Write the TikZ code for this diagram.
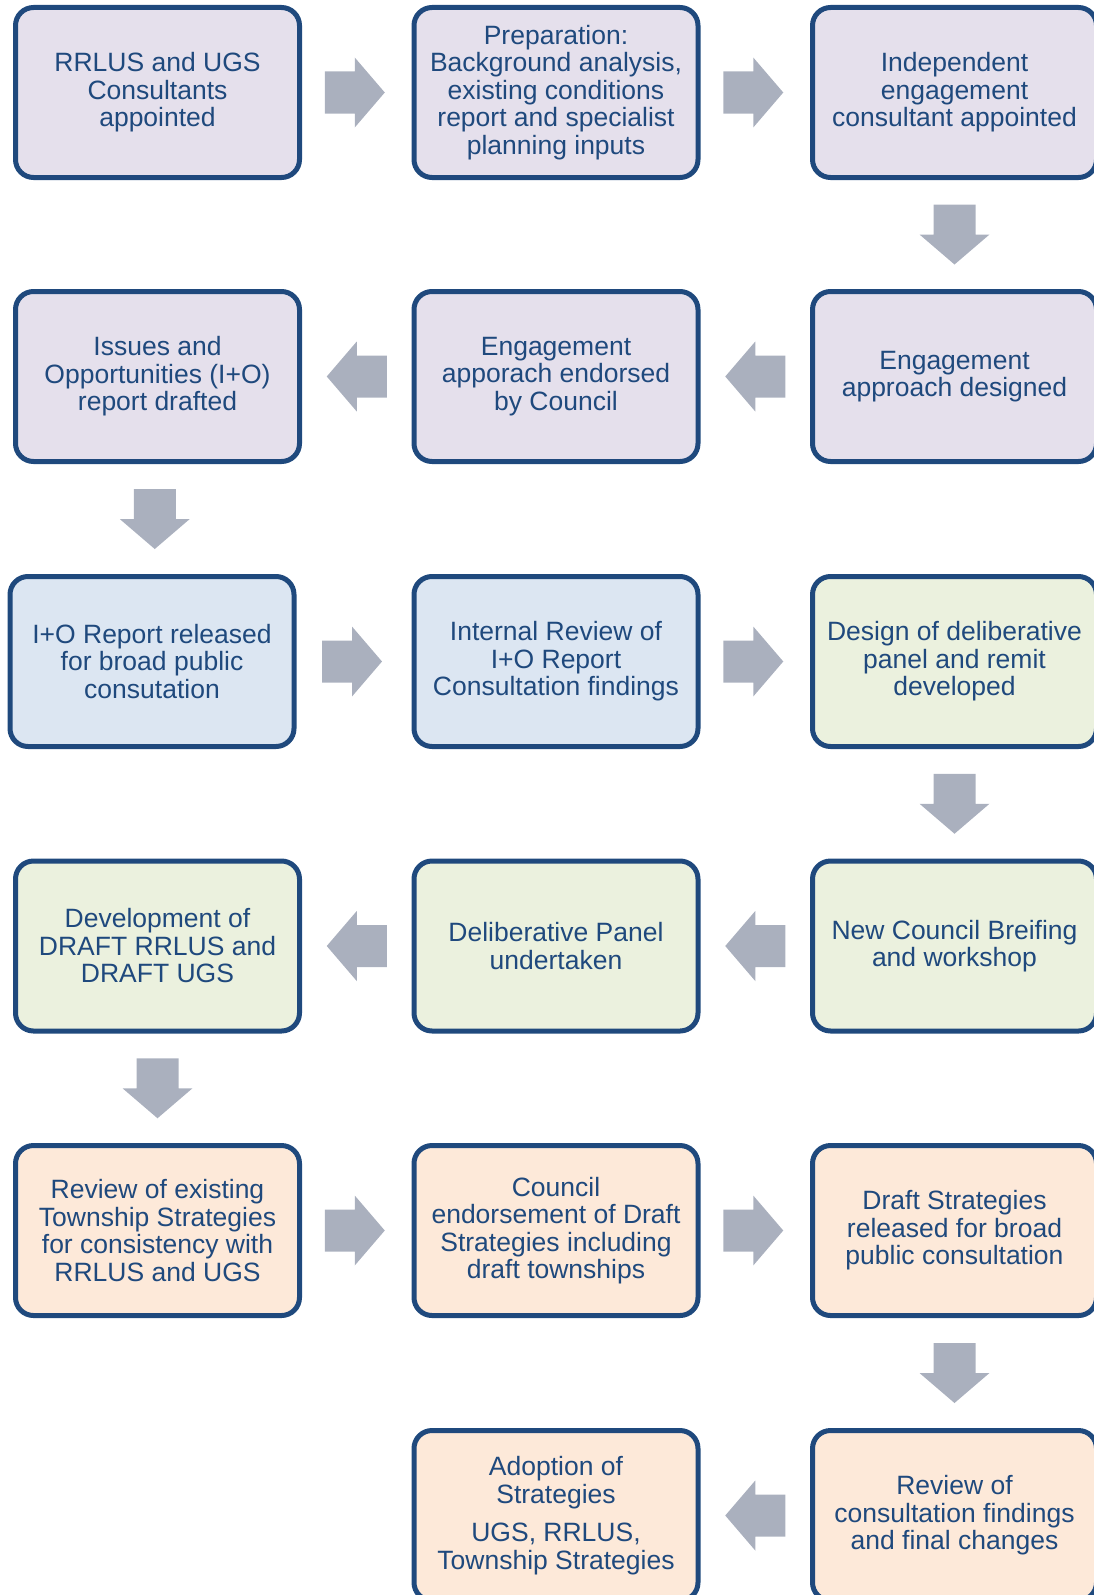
\documentclass[tikz,border=0pt]{standalone}
\usepackage{fontspec}
\setmainfont{Liberation Sans}
\usetikzlibrary{calc}
\definecolor{bordblue}{RGB}{31,73,125}
\definecolor{txtblue}{RGB}{31,73,125}
\definecolor{lav}{RGB}{229,224,236}
\definecolor{lblue}{RGB}{220,230,242}
\definecolor{lgreen}{RGB}{235,241,222}
\definecolor{peach}{RGB}{253,233,217}
\definecolor{arrgray}{RGB}{170,176,190}
\begin{document}
\begin{tikzpicture}[x=1pt,y=-1pt,
  box/.style={draw=bordblue, line width=5pt, rounded corners=18pt,
    minimum width=284pt, minimum height=170pt, inner sep=0pt,
    align=center, text=txtblue, font=\fontsize{26.5}{27.5}\selectfont},
  barrow/.pic={\fill[arrgray] (-30,-21) -- (0,-21) -- (0,-35) -- (30,0) -- (0,35) -- (0,21) -- (-30,21) -- cycle;}]
\useasboundingbox (0,0) rectangle (1094,1595);
\clip (0,0) rectangle (1094,1595);
% row 1
\node[box, fill=lav] (b1) at (157.5,92.5) {RRLUS and UGS\\Consultants\\appointed};
\node[box, fill=lav] (b2) at (556,92.5) {Preparation:\\Background analysis,\\existing conditions\\report and specialist\\planning inputs};
\node[box, fill=lav] (b3) at (954.5,92.5) {Independent\\engagement\\consultant appointed};
% row 2
\node[box, fill=lav] (b4) at (157.5,376.5) {Issues and\\Opportunities (I+O)\\report drafted};
\node[box, fill=lav] (b5) at (556,376.5) {Engagement\\apporach endorsed\\by Council};
\node[box, fill=lav] (b6) at (954.5,376.5) {Engagement\\approach designed};
% row 3
\node[box, fill=lblue] (b7) at (152,661.5) {I+O Report released\\for broad public\\consutation};
\node[box, fill=lblue] (b8) at (556,661.5) {Internal Review of\\I+O Report\\Consultation findings};
\node[box, fill=lgreen] (b9) at (954.5,661.5) {Design of deliberative\\panel and remit\\developed};
% row 4
\node[box, fill=lgreen] (b10) at (157.5,946) {Development of\\DRAFT RRLUS and\\DRAFT UGS};
\node[box, fill=lgreen] (b11) at (556,946) {Deliberative Panel\\undertaken};
\node[box, fill=lgreen] (b12) at (954.5,946) {New Council Breifing\\and workshop};
% row 5
\node[box, fill=peach] (b13) at (157.5,1230.5) {Review of existing\\Township Strategies\\for consistency with\\RRLUS and UGS};
\node[box, fill=peach] (b14) at (556,1230.5) {Council\\endorsement of Draft\\Strategies including\\draft townships};
\node[box, fill=peach] (b15) at (954.5,1230.5) {Draft Strategies\\released for broad\\public consultation};
% row 6
\node[box, fill=peach] (b17) at (556,1515.5) {Adoption of\\Strategies\\[11pt]UGS, RRLUS,\\Township Strategies};
\node[box, fill=peach] (b18) at (954.5,1515.5) {Review of\\consultation findings\\and final changes};
% arrows
\pic at ($(b1.east)!0.5!(b2.west)+(-2,0)$) {barrow};
\pic at ($(b2.east)!0.5!(b3.west)+(-2,0)$) {barrow};
\pic[rotate=-90] at ($(b3.south)!0.5!(b6.north)$) {barrow};
\pic[rotate=180] at ($(b6.west)!0.5!(b5.east)$) {barrow};
\pic[rotate=180] at ($(b5.west)!0.5!(b4.east)$) {barrow};
\pic[rotate=-90] at ($(b4.south)!0.5!(b7.north)$) {barrow};
\pic at ($(b7.east)!0.5!(b8.west)+(-2,0)$) {barrow};
\pic at ($(b8.east)!0.5!(b9.west)+(-2,0)$) {barrow};
\pic[rotate=-90] at ($(b9.south)!0.5!(b12.north)$) {barrow};
\pic[rotate=180] at ($(b12.west)!0.5!(b11.east)$) {barrow};
\pic[rotate=180] at ($(b11.west)!0.5!(b10.east)$) {barrow};
\pic[rotate=-90] at ($(b10.south)!0.5!(b13.north)$) {barrow};
\pic at ($(b13.east)!0.5!(b14.west)+(-2,0)$) {barrow};
\pic at ($(b14.east)!0.5!(b15.west)+(-2,0)$) {barrow};
\pic[rotate=-90] at ($(b15.south)!0.5!(b18.north)$) {barrow};
\pic[rotate=180] at ($(b18.west)!0.5!(b17.east)$) {barrow};
\end{tikzpicture}
\end{document}
